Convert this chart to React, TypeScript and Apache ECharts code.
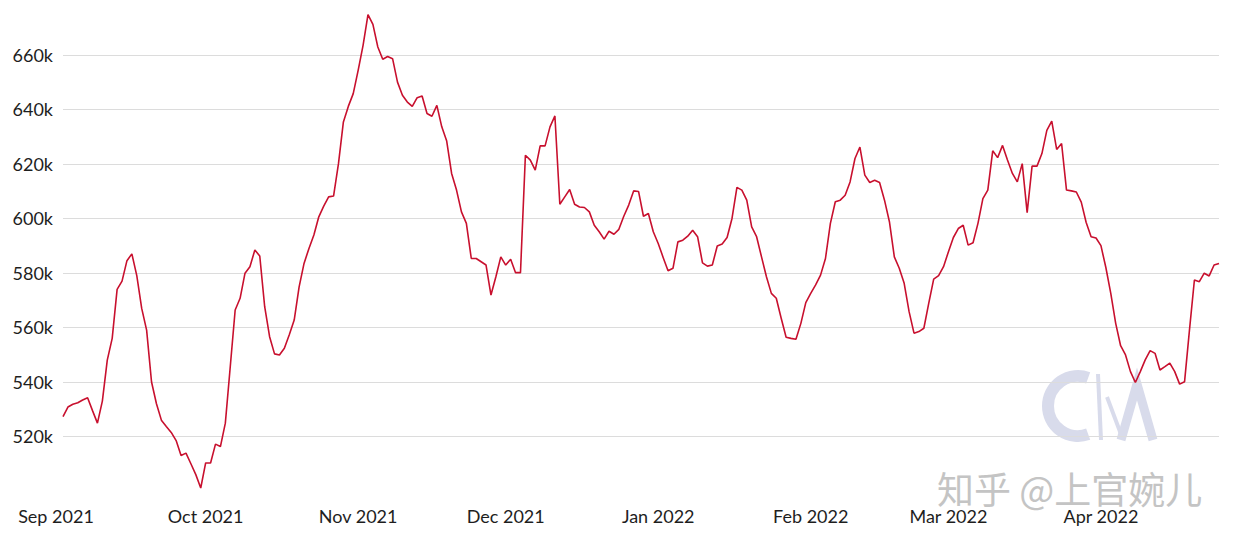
import React, { useEffect, useRef } from "react";
import * as echarts from "echarts";

// Daily values (thousands), Sep 2 2021 – Apr 25 2022
const sep21 = [527.3, 530.8, 531.8, 532.4, 533.4, 534.2, 529.5, 524.9, 533, 548, 556, 574, 577, 584.5, 587, 579, 567, 559, 540, 532, 526, 523.7, 521.5, 518.5, 513, 513.9, 510, 506, 501.1];
const oct21 = [510.3, 510.3, 517.2, 516.3, 524.9, 545.6, 566.4, 570.7, 579.9, 582.3, 588.4, 586.2, 567.6, 556.6, 550.3, 549.9, 552.4, 557.3, 562.7, 574.9, 583.5, 589, 593.9, 600.6, 604.5, 607.9, 608.2, 620.1, 635.4, 641.1, 645.8];
const nov21 = [654.3, 663.5, 674.8, 671.2, 662.9, 658.4, 659.4, 658.6, 650, 645.2, 642.7, 641.1, 644.3, 644.9, 638.5, 637.5, 641.5, 633.6, 628.4, 616.5, 610.4, 602.4, 598.2, 585.3, 585.3, 584.1, 582.9, 571.9, 578.6, 585.9];
const dec21 = [582.9, 585, 580.1, 580.1, 623.2, 621.4, 617.7, 626.6, 626.6, 633.6, 637.6, 605.2, 607.9, 610.6, 605.2, 604.2, 604, 602.4, 597.5, 595.1, 592.4, 595.3, 594.2, 596, 600.8, 604.9, 610.1, 609.9, 600.8, 601.8, 595.1];
const jan22 = [590.8, 585.7, 580.8, 581.7, 591.4, 592, 593.5, 595.7, 593.3, 583.7, 582.5, 582.9, 589.9, 590.6, 593, 600, 611.4, 610.4, 606.7, 596.9, 593.3, 585.9, 578.6, 572.5, 570.7, 563.4, 556.4, 556, 555.7, 561.5, 569.1];
const feb22 = [572.5, 575.6, 579.2, 585.3, 598.2, 606.1, 606.7, 608.5, 613.4, 622, 626.2, 615.9, 613.2, 614, 613.2, 606.7, 598.8, 585.9, 581.7, 576.2, 565.8, 557.9, 558.5, 559.7, 568.9, 577.7, 579, 582.3];
const mar22 = [587.8, 593, 596.3, 597.5, 590.2, 591.1, 598.2, 607.3, 610.4, 624.8, 622.3, 626.8, 621.4, 616.5, 613.4, 620.1, 602.1, 619.2, 619.2, 623.8, 632.3, 635.7, 625.3, 627.5, 610.4, 610.1, 609.7, 606, 598.5, 593.3, 592.8];
const apr22 = [590, 582, 572.5, 561.5, 553.3, 549.9, 543.8, 539.8, 543.8, 548.1, 551.5, 550.5, 544.4, 545.6, 546.9, 543.8, 539.2, 540.1, 559.1, 577.4, 576.8, 579.9, 578.9, 582.9, 583.5];

const START_UTC = Date.UTC(2021, 8, 2);
const MONTHS = ["Jan", "Feb", "Mar", "Apr", "May", "Jun", "Jul", "Aug", "Sep", "Oct", "Nov", "Dec"];
const yTicks = { min: 500, max: 675, interval: 20 };

const values = [...sep21, ...oct21, ...nov21, ...dec21, ...jan22, ...feb22, ...mar22, ...apr22];
const dates = values.map((_, i) => {
  const d = new Date(START_UTC + i * 86400000);
  return `${d.getUTCFullYear()}-${String(d.getUTCMonth() + 1).padStart(2, "0")}-${String(d.getUTCDate()).padStart(2, "0")}`;
});

const FONT = "Lato, 'Noto Sans', sans-serif";
const TEXT = "#1e1e1e";
const LOGO = "#d8dbeb";

export default function App() {
  const ref = useRef<HTMLDivElement>(null);
  useEffect(() => {
    if (!ref.current) return;
    const chart = echarts.init(ref.current, undefined, { renderer: "svg" });
    chart.setOption({
      animation: false,
      backgroundColor: "#ffffff",
      grid: { left: 63, right: 18, top: 14, bottom: 51, containLabel: false },
      xAxis: {
        type: "category",
        data: dates,
        boundaryGap: false,
        axisLine: { show: false },
        axisTick: { show: false },
        splitLine: { show: false },
        axisLabel: {
          interval: (i: number, v: string) => i === 0 || v.endsWith("-01"),
          margin: 16,
          fontFamily: FONT,
          fontSize: 18,
          color: TEXT,
          formatter: (v: string, i: number) => {
            const [y, m] = v.split("-");
            const t = `${MONTHS[parseInt(m, 10) - 1]} ${y}`;
            return i === 0 ? `{first|${t}}` : t;
          },
          rich: {
            first: { fontFamily: FONT, fontSize: 18, color: TEXT, padding: [0, 14, 0, 0] },
          },
        },
      },
      yAxis: {
        type: "value",
        min: yTicks.min,
        max: yTicks.max,
        interval: yTicks.interval,
        axisLine: { show: false },
        axisTick: { show: false },
        axisLabel: {
          margin: 10,
          fontFamily: FONT,
          fontSize: 18,
          color: TEXT,
          showMinLabel: false,
          showMaxLabel: false,
          formatter: (v: number) => `${v}k`,
        },
        splitLine: {
          show: true,
          showMinLine: false,
          showMaxLine: false,
          lineStyle: { color: "#dcdcdc", width: 1 },
        },
      },
      graphic: [
        {
          type: "arc",
          silent: true,
          z: 0,
          shape: { cx: 1078, cy: 406, r: 30, startAngle: Math.PI * 0.39, endAngle: Math.PI * 1.61, clockwise: true },
          style: { stroke: LOGO, lineWidth: 12, fill: "none" },
        },
        {
          type: "polyline",
          silent: true,
          z: 0,
          shape: { points: [[1098, 374], [1101, 440]] },
          style: { stroke: LOGO, lineWidth: 4, fill: "none" },
        },
        {
          type: "polyline",
          silent: true,
          z: 0,
          shape: { points: [[1107, 397], [1122, 437]] },
          style: { stroke: LOGO, lineWidth: 4, fill: "none" },
        },
        {
          type: "polyline",
          silent: true,
          z: 0,
          shape: { points: [[1121, 440], [1137, 384], [1153, 440]] },
          style: { stroke: LOGO, lineWidth: 9, fill: "none", lineJoin: "miter" },
        },
        {
          type: "text",
          silent: true,
          z: 100,
          x: 937,
          y: 469,
          style: {
            text: "知乎 @上官婉儿",
            font: "37px 'Noto Sans CJK SC'",
            fill: "#c4c4c4",
            stroke: "#ffffff",
            lineWidth: 1,
          },
        },
      ],
      series: [
        {
          type: "line",
          data: values,
          showSymbol: false,
          symbol: "none",
          lineStyle: { color: "#c8102e", width: 1.6 },
          z: 5,
        },
      ],
    });
    return () => chart.dispose();
  }, []);
  return <div ref={ref} style={{ width: 1237, height: 542, position: "absolute", left: 0, top: 0 }} />;
}
